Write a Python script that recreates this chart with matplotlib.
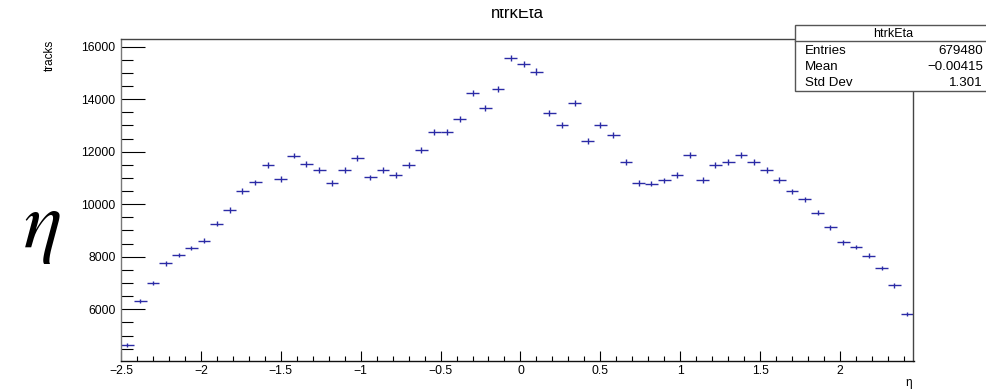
import numpy as np
import matplotlib
matplotlib.use("Agg")
import matplotlib.pyplot as plt
from matplotlib.patches import Rectangle
from matplotlib.ticker import MultipleLocator

plt.rcParams['font.family'] = ['Liberation Sans', 'DejaVu Sans']

# histogram htrkEta: 62 bins of width 0.08 from -2.5 to 2.46
eta_lo, eta_hi, n_bins = -2.5, 2.46, 62
counts = [4640, 6330, 6990, 7750, 8070, 8330, 8610, 9250, 9780, 10500,
          10830, 11500, 10960, 11850, 11520, 11300, 10800, 11300, 11770, 11020,
          11300, 11120, 11500, 12060, 12760, 12760, 13240, 14230, 13680, 14390,
          15570, 15330, 15050, 13460, 13000, 13840, 12420, 13000, 12650, 11620,
          10810, 10780, 10910, 11110, 11870, 10920, 11490, 11600, 11870, 11600,
          11310, 10930, 10490, 10190, 9670, 9130, 8550, 8370, 8040, 7570,
          6910, 5810]

stats_name = "htrkEta"
stats_rows = [("Entries", "679480"), ("Mean", "\u22120.00415"), ("Std Dev", "1.301")]

width = (eta_hi - eta_lo) / n_bins
centers = eta_lo + width * (np.arange(n_bins) + 0.5)
counts = np.array(counts, dtype=float)

fig = plt.figure(figsize=(9.86, 3.9), dpi=100)
ax = fig.add_axes([121/986, 29/390, (913.5-121)/986, (361-39.3)/390])

col = '#2b2ba6'
ax.errorbar(centers, counts, xerr=width/2, yerr=np.sqrt(counts), fmt='none',
            ecolor=col, elinewidth=1.0, capsize=0)

ax.set_xlim(eta_lo, eta_hi)
ax.set_ylim(4030, 16280)
ax.xaxis.set_major_locator(MultipleLocator(0.5))
ax.xaxis.set_minor_locator(MultipleLocator(0.1))
ax.yaxis.set_major_locator(MultipleLocator(2000))
ax.yaxis.set_minor_locator(MultipleLocator(500))
ax.set_xticks([-2.5, -2, -1.5, -1, -0.5, 0, 0.5, 1, 1.5, 2])
ax.set_xticklabels(['\u22122.5', '\u22122', '\u22121.5', '\u22121', '\u22120.5', '0', '0.5', '1', '1.5', '2'])
ax.tick_params(axis='x', which='major', direction='in', length=7.2, width=0.8, labelsize=8.8, pad=3)
ax.tick_params(axis='x', which='minor', direction='in', length=3.6, width=0.8)
ax.tick_params(axis='y', which='major', direction='in', length=17.3, width=0.8, labelsize=8.8, pad=4)
ax.tick_params(axis='y', which='minor', direction='in', length=8.6, width=0.8)
for s in ax.spines.values():
    s.set_color('#444444')
    s.set_linewidth(1.0)
ax.spines['left'].set_color('#777777')
ax.spines['bottom'].set_color('#111111')

# axis titles
fig.text(912/986, 1 - 383/390, '\u03b7', ha='right', va='center', fontsize=8.5)
fig.text(50/986, 1 - 40/390, 'tracks', rotation=90, ha='center', va='top', fontsize=8.5)
fig.text(42/986, 1 - 228/390, r'$\eta$', ha='center', va='center', fontsize=58,
         math_fontfamily='stix')

# title, clipped at the top like the original canvas
fig.text(517/986, 1 - 18.3/390, stats_name, ha='center', va='baseline', fontsize=12)
fig.patches.append(Rectangle((0, 1 - 9/390), 1, 9/390, transform=fig.transFigure,
                             facecolor='white', edgecolor='none', zorder=10))

# stats box
bx0, by0, bx1, by1 = 795/986, 1 - 91/390, 990/986, 1 - 25/390
fig.patches.append(Rectangle((bx0, by0), bx1 - bx0, by1 - by0, transform=fig.transFigure,
                             facecolor='white', edgecolor='#555555', lw=1.0, zorder=5))
fig.add_artist(plt.Line2D([bx0, bx1], [1 - 41/390, 1 - 41/390], transform=fig.transFigure,
                          color='#555555', lw=1.0, zorder=6))
fig.text(893/986, 1 - 34/390, stats_name, ha='center', va='center', fontsize=9, zorder=7)
for i, (lab, val) in enumerate(stats_rows):
    yy = 1 - (51.5 + 16*i)/390
    fig.text(805/986, yy, lab, ha='left', va='center', fontsize=9.6, zorder=7)
    fig.text(983/986, yy, val, ha='right', va='center', fontsize=9.6, zorder=7)

fig.savefig('out.png', dpi=100)
